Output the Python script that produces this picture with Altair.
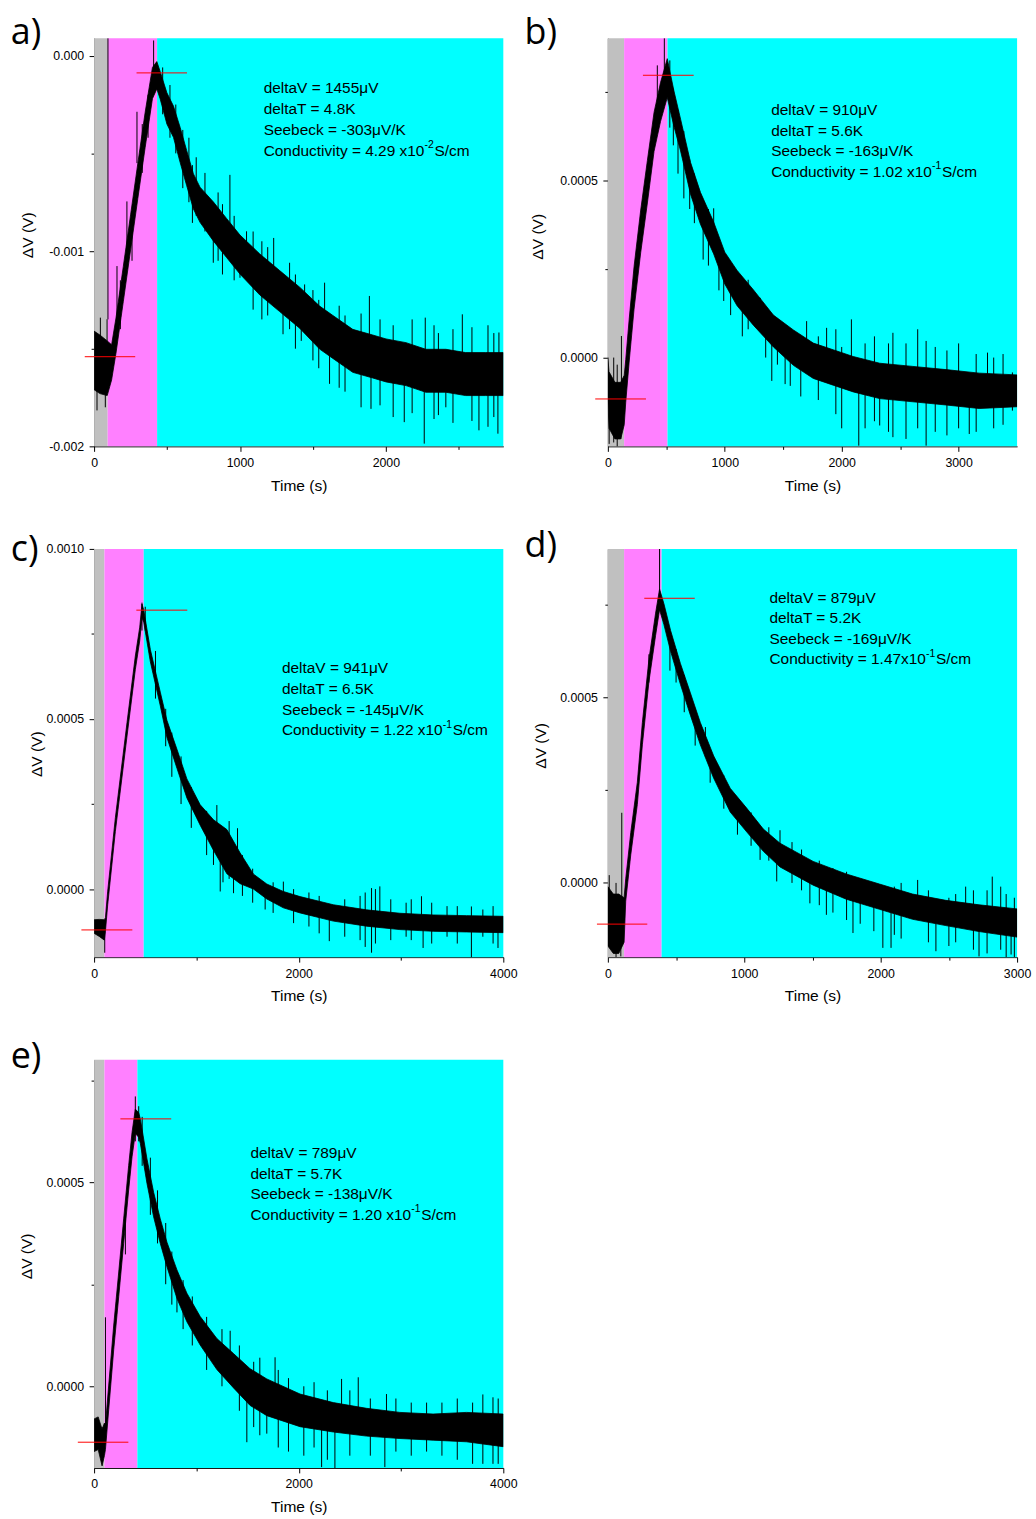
import altair as alt
import pandas as pd

# ---------------- data (time in s, voltages in microvolts) ----------------
# panel a : band centre (C) and half width (H) of the dense trace, plus visible spikes
A_T = [0, 40, 90, 120, 150, 200, 250, 300, 350, 400, 430, 453, 499, 544, 590, 635, 681, 726, 817, 908,
       1000, 1136, 1272, 1409, 1546, 1637, 1773, 1910, 2001, 2138, 2274, 2411, 2547, 2684, 2805]
A_C = [-1560, -1580, -1600, -1570, -1433, -1170, -905, -640, -380, -140, -100, -151, -270, -338, -457, -576, -695, -763, -848, -933,
       -1018, -1120, -1205, -1290, -1392, -1440, -1511, -1540, -1560, -1579, -1613, -1613, -1630, -1630, -1630]
A_H = [150, 150, 140, 90, 90, 90, 90, 90, 90, 80, 70, 70, 80, 80, 90, 90, 90, 90, 100, 100,
       100, 105, 105, 105, 110, 110, 110, 110, 110, 110, 110, 110, 110, 110, 110]
A_SK_T = [95, 20, 43, 77, 89, 157, 225, 294, 408, 608, 674, 817, 931, 1000, 1045, 1231, 1295, 1420, 1443, 1580,
          1614, 1887, 1898, 2126, 2263, 2270, 2411, 2524, 2638, 2768, 2775,
          470, 520, 560, 650, 700, 760, 850, 880, 960, 1090, 1150, 1190, 1340, 1380, 1500, 1540, 1680, 1720, 1830, 1960,
          2050, 2180, 2330, 2360, 2460, 2590, 2700, 2740, 180, 260, 330, 370]
A_SK_HI = [90, -1450, -1341, -1500, -1349, -1077, -746, -287, 78, -380, -560, -800, -610, -950, -899, -933, -1200, -1300, -1171, -1162,
           -1450, -1230, -1550, -1600, -1650, -1341, -1650, -1324, -1700, -1700, -1417,
           -60, -150, -250, -420, -520, -600, -700, -760, -820, -900, -950, -980, -1060, -1120, -1200, -1250, -1280, -1330, -1320, -1350,
           -1380, -1350, -1380, -1420, -1400, -1390, -1380, -1420, -1150, -850, -350, -200]
A_SK_LO = [-1350, -1816, -1580, -1800, -1600, -1400, -1000, -550, -150, -678, -856, -1060, -930, -1137, -1100, -1150, -1426, -1460, -1350, -1400,
           -1680, -1500, -1808, -1876, -1986, -1550, -1800, -1550, -1918, -1935, -1600,
           -300, -420, -500, -750, -820, -900, -1050, -1120, -1150, -1300, -1350, -1330, -1400, -1500, -1560, -1600, -1700, -1720, -1800, -1790,
           -1850, -1830, -1860, -1840, -1880, -1870, -1900, -1850, -1400, -1050, -600, -420]
A_REG = [93, 432]
A_RED_X1 = [-64, 291]
A_RED_X2 = [282, 637]
A_RED_Y = [-1541, -88]
A_TEXT = ["deltaV = 1455μV", "deltaT = 4.8K", "Seebeck = -303μV/K", "Conductivity = 4.29 x10", "-2", "S/cm"]

# panel b
B_T = [0, 10, 60, 110, 140, 153, 182, 224, 281, 338, 395, 451, 508, 565, 622, 707, 792, 905, 1000, 1104,
       1246, 1416, 1587, 1757, 1927, 2098, 2325, 2609, 2892, 3176, 3500]
B_C = [-60, -120, -150, -150, -120, -66, 47, 197, 357, 497, 638, 723, 790, 704, 629, 507, 422, 338, 253, 197,
       141, 75, 28, -9, -28, -47, -66, -75, -84, -94, -94]
B_H = [60, 80, 80, 80, 70, 60, 60, 60, 60, 60, 55, 55, 55, 50, 45, 45, 45, 45, 45, 50,
       50, 45, 50, 50, 50, 50, 50, 50, 50, 50, 45]
B_SK_T = [483, 423, 116, 11, 111, 815, 905, 991, 1303, 1402, 1516, 1700, 1871, 2083, 2146, 2325, 2438, 2722, 3091, 3247, 3460,
          530, 560, 600, 650, 700, 740, 860, 950, 1050, 1150, 1200, 1350, 1450, 1560, 1650, 1800, 1950, 2000, 2200, 2280,
          2400, 2550, 2650, 2800, 2900, 3000, 3150, 3300, 3380, 50, 80]
B_SK_HI = [903, 826, 61, -100, -130, 420, 422, 253, 169, 60, 50, 103, 84, 108, -40, -50, 70, 47, -60, 14, -42,
           840, 760, 700, 640, 560, 520, 420, 320, 260, 200, 220, 140, 110, 80, 60, 60, 80, 30, 40, 60,
           40, 40, 80, 30, 20, 40, 10, 0, 10, 0, -20]
B_SK_LO = [750, 640, -130, -244, -230, 277, 300, 160, 80, -66, -75, -20, -40, -40, -249, -192, -225, -249, -216, -90, -150,
           650, 600, 520, 450, 420, 380, 260, 190, 120, 60, 80, 0, -20, -80, -110, -120, -160, -200, -200, -180,
           -210, -230, -200, -210, -220, -200, -210, -200, -190, -240, -260]
B_REG = [139, 510]
B_RED_X1 = [-108, 300]
B_RED_X2 = [326, 734]
B_RED_Y = [-117, 798]
B_TEXT = ["deltaV = 910μV", "deltaT = 5.6K", "Seebeck = -163μV/K", "Conductivity = 1.02 x10", "-1", "S/cm"]

# panel c
C_T = [0, 50, 100, 111, 133, 208, 322, 403, 446, 468, 485, 550, 647, 712, 810, 907, 1037, 1167, 1298, 1428,
       1558, 1688, 1850, 2013, 2338, 2663, 2989, 3314, 3639, 4000]
C_C = [-110, -114, -120, -104, -26, 190, 470, 665, 750, 818, 803, 686, 559, 471, 383, 296, 218, 159, 110, 61,
       22, -7, -31, -46, -70, -85, -95, -100, -102, -104]
C_H = [20, 25, 30, 20, 20, 20, 20, 20, 20, 20, 18, 18, 20, 25, 28, 28, 30, 45, 65, 45,
       22, 22, 24, 24, 24, 24, 24, 24, 24, 24]
C_SK_T = [468, 104, 1167, 1200, 1233, 1363, 1402, 1672, 1850, 2299, 2712, 2793, 3200, 3216, 3688, 3948,
          500, 600, 700, 760, 850, 950, 1100, 1260, 1320, 1450, 1550, 1750, 1950, 2100, 2200, 2450, 2600, 2650, 2750, 2900,
          3050, 3100, 3300, 3450, 3550, 3800, 3900]
C_SK_HI = [842, -100, 150, 247, 110, 60, 179, -10, 22, -50, 3, 8, -21, -80, -51, -100,
           830, 700, 530, 460, 390, 300, 230, 180, 200, 100, 60, 20, 0, -10, -20, -30, -20, -10, 0, -30,
           -40, -30, -40, -50, -50, -60, -50]
C_SK_LO = [760, -187, 71, 130, -7, -12, 60, -60, -40, -153, -187, -80, -100, -173, -200, -173,
           760, 560, 420, 330, 250, 180, 100, 20, 30, -20, -40, -70, -100, -110, -130, -140, -150, -170, -160, -150,
           -140, -150, -160, -140, -160, -140, -160]
C_REG = [101, 485]
C_RED_X1 = [-124, 413]
C_RED_X2 = [374, 911]
C_RED_Y = [-120, 820]
C_TEXT = ["deltaV = 941μV", "deltaT = 6.5K", "Seebeck = -145μV/K", "Conductivity = 1.22 x10", "-1", "S/cm"]

# panel d
D_T = [0, 40, 80, 119, 131, 168, 216, 253, 301, 350, 379, 411, 460, 532, 605, 678, 776, 897, 1019, 1140,
       1262, 1505, 1748, 1991, 2234, 2478, 2721, 3000]
D_C = [-90, -110, -110, -100, -19, 106, 241, 402, 572, 697, 764, 724, 652, 563, 482, 402, 312, 223, 169, 115,
       75, 26, -10, -37, -64, -81, -95, -108]
D_H = [80, 80, 80, 60, 30, 30, 30, 30, 30, 30, 28, 28, 28, 28, 30, 30, 30, 32, 32, 30,
       32, 32, 34, 34, 34, 34, 36, 38]
D_SK_T = [379, 102, 95, 10, 46, 455, 301, 715, 1116, 1238, 1262, 1481, 1602, 1797, 2016, 2076, 2271, 2405, 2623, 2721, 2818, 2956,
          60, 500, 560, 640, 750, 850, 950, 1050, 1180, 1350, 1420, 1550, 1650, 1750, 1850, 1950, 2100, 2150, 2350, 2500,
          2550, 2680, 2780, 2880, 2920, 2980]
D_SK_HI = [900, 189, -100, 21, -60, 660, 616, 420, 130, 80, 142, 10, -20, -40, -60, -60, 8, -90, -10, -110, 17, -110,
           0, 630, 560, 470, 360, 290, 220, 190, 150, 110, 90, 60, 40, 30, 10, 0, -10, 0, -20, -40,
           -30, -20, -20, -10, -30, -40]
D_SK_LO = [760, -60, -198, -80, -189, 572, 540, 339, 62, 4, 60, -55, -86, -135, -175, -175, -70, -184, -100, -198, -80, -193,
           -200, 540, 460, 370, 270, 200, 130, 100, 60, 0, -20, -60, -80, -100, -110, -130, -140, -150, -160, -170,
           -160, -180, -190, -180, -200, -200]
D_REG = [119, 394]
D_RED_X1 = [-80, 267]
D_RED_X2 = [289, 637]
D_RED_Y = [-111, 767]
D_TEXT = ["deltaV = 879μV", "deltaT = 5.2K", "Seebeck = -169μV/K", "Conductivity = 1.47x10", "-1", "S/cm"]

# panel e
E_T = [0, 40, 78, 101, 111, 143, 192, 241, 289, 338, 371, 403, 436, 452, 517, 582, 647, 712, 810, 907,
       1037, 1200, 1363, 1525, 1688, 2013, 2338, 2663, 2989, 3314, 3639, 4000]
E_C = [-120, -115, -150, -130, -125, -27, 120, 250, 380, 511, 592, 649, 640, 625, 527, 445, 380, 323, 250, 193,
       136, 79, 38, -2, -27, -59, -76, -88, -96, -100, -100, -108]
E_H = [40, 40, 45, 40, 30, 30, 30, 30, 30, 30, 30, 30, 30, 30, 30, 30, 30, 30, 35, 35,
       35, 38, 42, 45, 45, 40, 36, 34, 32, 32, 36, 40]
E_SK_T = [403, 436, 306, 111, 78, 810, 1330, 1493, 1769, 1688, 2224, 2354, 2582, 2419, 2842, 2858, 3899,
          470, 550, 620, 700, 760, 870, 960, 1100, 1250, 1420, 1560, 1620, 1800, 1900, 2050, 2150, 2280, 2500, 2700, 2950,
          3100, 3250, 3400, 3550, 3700, 3800, 3950]
E_SK_HI = [710, 686, 420, 169, -100, 280, 136, -20, 71, -40, -80, -80, 22, 18, -100, -19, -27,
           660, 560, 480, 400, 330, 260, 220, 170, 140, 100, 60, 70, 40, 20, 0, 10, -10, -10, -30, -30,
           -40, -40, -40, -30, -40, -20, -30]
E_SK_LO = [600, 600, 323, -100, -178, 181, 30, -137, -20, -116, -198, -202, -60, -60, -198, -80, -190,
           540, 420, 350, 250, 200, 140, 100, 40, 0, -60, -100, -120, -150, -160, -170, -150, -180, -170, -170, -160,
           -170, -160, -170, -180, -190, -190, -190]
E_REG = [101, 423]
E_RED_X1 = [-159, 257]
E_RED_X2 = [335, 754]
E_RED_Y = [-137, 655]
E_TEXT = ["deltaV = 789μV", "deltaT = 5.7K", "Seebeck = -138μV/K", "Conductivity = 1.20 x10", "-1", "S/cm"]

# tick values
X_TICKS_A = [0, 500, 1000, 1500, 2000, 2500]
X_TICKS_B = [0, 500, 1000, 1500, 2000, 2500, 3000]
X_TICKS_C = [0, 1000, 2000, 3000, 4000]
X_TICKS_D = [0, 500, 1000, 1500, 2000, 2500, 3000]
X_TICKS_E = [0, 1000, 2000, 3000, 4000]
Y_TICKS_A = [-0.002, -0.0015, -0.001, -0.0005, 0.0]
Y_TICKS_B = [0.0, 0.00025, 0.0005, 0.00075]
Y_TICKS_C = [0.0, 0.00025, 0.0005, 0.00075, 0.001]
Y_TICKS_D = [0.0, 0.00025, 0.0005, 0.00075]
Y_TICKS_E = [0.0, 0.00025, 0.0005, 0.00075]

# ---------------- styling ----------------
FONT = "Liberation Sans"
W, HGT = 411, 410
GREY, MAGENTA, CYAN = "#C0C0C0", "#FF80FF", "#00FFFF"
UV = 1e-6
ONE = pd.DataFrame({"k": [0]})


def txt(s, x, y, size=15.5, font=FONT, align="left", baseline="middle"):
    return alt.Chart(ONE).mark_text(align=align, baseline=baseline, font=font, fontSize=size,
                                    color="black").encode(x=alt.value(x), y=alt.value(y), text=alt.value(s))


def panel(label, T, C, Hw, SK_T, SK_HI, SK_LO, REG, RX1, RX2, RY, TEXT, xmax, ydom, xt, xstep, yt, ystep, dec,
          tx, tdy, ax, ay, lsp, sup_dx, label_y):
    xs = alt.Scale(domain=[0, xmax], nice=False, zero=False)
    ys = alt.Scale(domain=ydom, nice=False, zero=False)
    reg = pd.DataFrame({"x0": [0, REG[0], REG[1]], "x1": [REG[0], REG[1], xmax], "c": [GREY, MAGENTA, CYAN]})
    band = pd.DataFrame({"t": T,
                         "lo": [(c - h) * UV for c, h in zip(C, Hw)],
                         "hi": [(c + h) * UV for c, h in zip(C, Hw)]})
    spk = pd.DataFrame({"t": SK_T, "hi": [v * UV for v in SK_HI], "lo": [v * UV for v in SK_LO]})
    red = pd.DataFrame({"x1": RX1, "x2": RX2, "y": [v * UV for v in RY]})

    xtest = f"datum.value % {xstep} === 0"
    xaxis = alt.Axis(values=xt, format="d", title="Time (s)",
                     labelExpr=f"{xtest} ? datum.label : ''",
                     tickSize={"condition": {"test": xtest, "value": 5}, "value": 3},
                     labelPadding=5, titleX=W / 2, titleY=39, titleAlign="center", titleBaseline="middle")
    ytest = f"abs(datum.value / {ystep} - round(datum.value / {ystep})) < 0.001"
    yaxis = alt.Axis(values=yt, title="ΔV (V)",
                     labelExpr=(f"{ytest} ? (datum.value < 0 ? '-' + format(-datum.value, '.{dec}f') "
                                f": format(datum.value, '.{dec}f')) : ''"),
                     tickSize={"condition": {"test": ytest, "value": 5}, "value": 3},
                     labelPadding=5.5, titleAngle=270, titleX=tx, titleY=HGT / 2 + tdy,
                     titleAlign="center", titleBaseline="middle")

    X = lambda f: alt.X(f, scale=xs, axis=xaxis, title="Time (s)")
    Y = lambda f: alt.Y(f, scale=ys, axis=yaxis, title="ΔV (V)")

    rects = alt.Chart(reg).mark_rect().encode(
        x=X("x0:Q"), x2="x1:Q",
        y=alt.value(0), y2=alt.value(HGT),
        color=alt.Color("c:N", scale=None))
    area = alt.Chart(band).mark_area(color="black", stroke="black", strokeWidth=0.8, clip=True).encode(
        x=X("t:Q"), y=Y("lo:Q"), y2="hi:Q")
    spikes = alt.Chart(spk).mark_rule(color="black", strokeWidth=1, clip=True).encode(
        x=X("t:Q"), y=Y("hi:Q"), y2="lo:Q")
    reds = alt.Chart(red).mark_rule(color="#FF0000", strokeWidth=1, clip=False).encode(
        x=X("x1:Q"), x2="x2:Q", y=Y("y:Q"))

    layers = [rects, area, spikes, reds]
    for i in range(4):
        layers.append(txt(TEXT[i], ax, ay + i * lsp))
    layers.append(txt(TEXT[4], ax + sup_dx, ay + 3 * lsp - 5.6, size=10.5))
    layers.append(txt(TEXT[5], ax + sup_dx + 10, ay + 3 * lsp))
    layers.append(txt(label, -83.7, label_y, size=36, font="Open Sans", baseline="alphabetic"))
    return alt.layer(*layers).properties(width=W, height=HGT)


pa = panel("a)", A_T, A_C, A_H, A_SK_T, A_SK_HI, A_SK_LO, A_REG, A_RED_X1, A_RED_X2, A_RED_Y, A_TEXT,
           2805, [-0.002, 0.00009], X_TICKS_A, 1000, Y_TICKS_A, 0.001, 3,
           -67, -7.5, 170.3, 50.2, 20.9, 161.5, 6)
pb = panel("b)", B_T, B_C, B_H, B_SK_T, B_SK_HI, B_SK_LO, B_REG, B_RED_X1, B_RED_X2, B_RED_Y, B_TEXT,
           3500, [-0.000251, 0.000903], X_TICKS_B, 1000, Y_TICKS_B, 0.0005, 4,
           -70.4, -6, 164, 72.2, 20.6, 161.5, 6)
pc = panel("c)", C_T, C_C, C_H, C_SK_T, C_SK_HI, C_SK_LO, C_REG, C_RED_X1, C_RED_X2, C_RED_Y, C_TEXT,
           4000, [-0.0002, 0.001], X_TICKS_C, 2000, Y_TICKS_C, 0.0005, 4,
           -58, 0.7, 188.6, 119.8, 20.8, 161.5, 12)
pd_ = panel("d)", D_T, D_C, D_H, D_SK_T, D_SK_HI, D_SK_LO, D_REG, D_RED_X1, D_RED_X2, D_RED_Y, D_TEXT,
            3000, [-0.0002, 0.0009], X_TICKS_D, 1000, Y_TICKS_D, 0.0005, 4,
            -67.7, -7.7, 162.3, 49.2, 20.6, 157.2, 8)
pe = panel("e)", E_T, E_C, E_H, E_SK_T, E_SK_HI, E_SK_LO, E_REG, E_RED_X1, E_RED_X2, E_RED_Y, E_TEXT,
           4000, [-0.0002, 0.0008], X_TICKS_E, 2000, Y_TICKS_E, 0.0005, 4,
           -67.7, -8, 157, 94.2, 20.5, 161.5, 8)

chart = alt.concat(pa, pb, pc, pd_, pe, columns=2, spacing={"row": 103, "column": 105}, bounds="flush").properties(
    padding={"left": 10.5, "top": 12, "right": 5, "bottom": 0}
).configure_view(stroke=None).configure_axis(
    labelFont=FONT, labelFontSize=12.4, labelColor="black",
    titleFont=FONT, titleFontSize=15.6, titleFontWeight="normal", titleColor="black",
    domainColor="black", domainWidth=1, tickColor="black", tickWidth=1,
    grid=False, labelFlush=False, labelOverlap=False
)

chart.save("out.html", embed_options={"renderer": "svg", "actions": False})
